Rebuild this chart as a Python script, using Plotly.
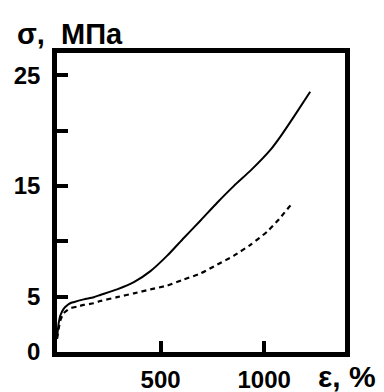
import plotly.graph_objects as go

# Solid curve (strain %, stress MPa)
solid_x = [0, 8, 16, 32, 48, 64, 80, 129, 177, 209, 290, 371, 451, 532, 612, 694, 774, 854, 935, 1032, 1080, 1145, 1222]
solid_y = [1.2, 2.6, 3.3, 3.9, 4.2, 4.4, 4.5, 4.75, 4.95, 5.15, 5.65, 6.3, 7.3, 8.7, 10.3, 11.9, 13.5, 15.0, 16.4, 18.3, 19.5, 21.3, 23.5]

# Dashed curve
dash_x = [0, 8, 16, 32, 48, 64, 97, 129, 177, 209, 290, 371, 451, 532, 612, 694, 774, 854, 935, 1016, 1072, 1129]
dash_y = [1.2, 2.1, 2.85, 3.5, 3.75, 3.95, 4.1, 4.25, 4.4, 4.6, 4.95, 5.3, 5.65, 6.0, 6.55, 7.1, 7.9, 8.7, 9.7, 10.9, 12.0, 13.3]

x_ticks = [500, 1000]
x_tick_text = ["500", "1000"]
y_ticks = [0, 5, 10, 15, 20, 25]
y_tick_text = ["0", "5", "", "15", "", "25"]

FONT = "Arial, Liberation Sans, sans-serif"

fig = go.Figure()
fig.add_trace(go.Scatter(x=solid_x, y=solid_y, mode="lines",
                         line=dict(color="black", width=2, shape="spline", smoothing=0.6)))
fig.add_trace(go.Scatter(x=dash_x, y=dash_y, mode="lines",
                         line=dict(color="black", width=2.2, dash="5px,4px", shape="spline", smoothing=0.6)))

axis_common = dict(showline=True, linecolor="black", linewidth=4.5, mirror=True,
                   ticks="inside", ticklen=11, tickwidth=4, tickcolor="black",
                   showgrid=False, zeroline=False, automargin=False,
                   tickfont=dict(family=FONT, size=24, color="black", weight="bold"))

fig.update_xaxes(range=[0, 1390], tickvals=x_ticks, ticktext=x_tick_text,
                 ticklabelstandoff=2, **axis_common)
fig.update_yaxes(range=[0, 27], tickvals=y_ticks, ticktext=y_tick_text,
                 ticklabelstandoff=7, **axis_common)

fig.add_annotation(text="σ,&nbsp; МПа", xref="paper", yref="paper", x=-0.145, y=1.0,
                   xanchor="left", yanchor="bottom", showarrow=False, yshift=1,
                   font=dict(family=FONT, size=29, color="black", weight="bold"))
fig.add_annotation(text="ε, %", xref="paper", yref="paper", x=1.115, y=0,
                   xanchor="right", yanchor="top", showarrow=False, yshift=-6,
                   font=dict(family=FONT, size=30, color="black", weight="bold"))

fig.update_layout(width=384, height=392, showlegend=False,
                  margin=dict(l=57, r=39, t=53, b=40, autoexpand=False),
                  paper_bgcolor="white", plot_bgcolor="white")

fig.write_html("out.html", config={"displayModeBar": False},
               post_script="document.body.style.margin='0';")
